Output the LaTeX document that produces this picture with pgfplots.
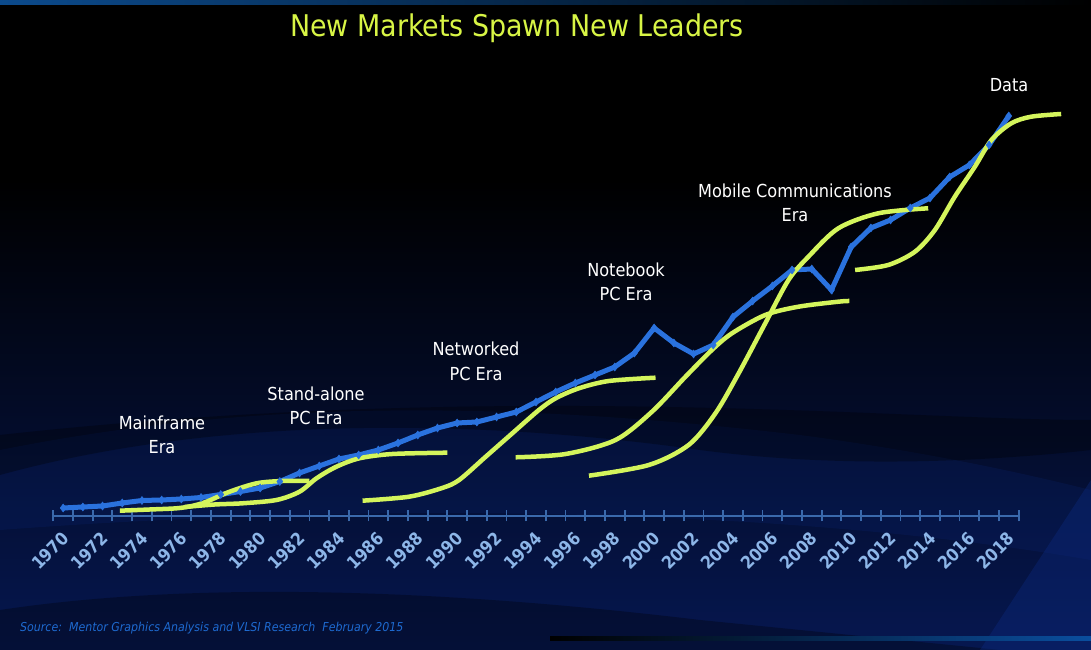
\documentclass[border=0pt]{standalone}
\usepackage{pgfplots}
\pgfplotsset{compat=1.18}
\usepackage{fontspec}
\setmainfont{DejaVu Sans Condensed}
\definecolor{lineblue}{HTML}{2A72DE}
\definecolor{yg}{HTML}{D4F55C}
\definecolor{titleyg}{HTML}{D8F545}
\definecolor{tickblue}{HTML}{3A69AC}
\definecolor{ticklab}{HTML}{8DB6E8}
\definecolor{srcblue}{HTML}{1E6AD0}
\definecolor{navy}{HTML}{061750}
\definecolor{navylight}{HTML}{0C2C86}
\definecolor{topband}{HTML}{0B4A8C}
\definecolor{botband}{HTML}{0A4E9E}
\begin{document}
\begin{tikzpicture}
\begin{scope}[x=1bp,y=1bp]
\useasboundingbox (0,0) rectangle (1091,650);
\clip (0,0) rectangle (1091,650);
\fill[black] (0,0) rectangle (1091,650);
\shade[top color=black, bottom color=navy] (0,0) rectangle (1091,470);
% lighter swath lower left
\fill[navylight, opacity=0.18] (0,200) .. controls (250,250) and (500,250) .. (800,215) .. controls (950,195) and (1050,170) .. (1091,160) -- (1091,90) .. controls (800,140) and (400,150) .. (0,120) -- cycle;
% dark wave
\fill[black, opacity=0.3] (0,175) .. controls (200,230) and (450,235) .. (700,200) .. controls (850,180) and (1000,190) .. (1091,200) -- (1091,230) .. controls (900,230) and (500,270) .. (0,215) -- cycle;
% bottom darker wave
\fill[black, opacity=0.3] (0,0) -- (0,40) .. controls (200,70) and (450,60) .. (700,30) .. controls (800,20) and (900,10) .. (1000,0) -- cycle;
% bottom right lighter
\fill[navylight, opacity=0.35] (980,0) -- (1091,170) -- (1091,0) -- cycle;
% top band
\shade[left color=topband, right color=black] (0,645) rectangle (1091,650);
% bottom band
\shade[left color=black, right color=botband] (550,9) rectangle (1091,13);
% title
\node[anchor=base, text=titleyg, font=\fontsize{30}{30}\selectfont, inner sep=0pt] at (517,613) {New Markets Spawn New Leaders};
\end{scope}
\begin{axis}[
  at={(53.3bp,134bp)}, anchor=south west, scale only axis,
  width=965.3bp, height=516bp,
  xmin=1969.5, xmax=2018.5, ymin=0, ymax=516,
  clip=false,
  axis y line=none,
  axis x line*=bottom,
  x axis line style={draw=tickblue, line width=2bp},
  xtick={1970,1972,...,2018},
  minor xtick={1969.5,1970.5,...,2018.5},
  major tick length=0pt,
  minor tick length=11bp,
  tick align=center,
  minor tick style={draw=tickblue, line width=1.8bp},
  xticklabel style={font=\bfseries\fontsize{17.5}{17.5}\selectfont, text=ticklab, rotate=45, anchor=east, inner sep=0pt, xshift=-12bp, yshift=-15.5bp, /pgf/number format/1000 sep={}, /pgf/number format/assume math mode=true},
]
\addplot[color=lineblue, line width=5bp, mark=diamond*, mark size=4bp, mark options={line width=0.5bp, fill=lineblue}] coordinates {
(1970,8)(1971,9)(1972,10)(1973,13)(1974,15.5)(1975,16)(1976,17)(1977,18.5)(1978,21.5)(1979,24.5)(1980,28)(1981,34.5)(1982,43)(1983,50)(1984,57)(1985,61)(1986,66)(1987,73)(1988,81)(1989,88)(1990,93)(1991,94)(1992,99)(1993,104)(1994,114)(1995,124)(1996,133)(1997,141)(1998,149)(1999,163)(2000,188)(2001,173)(2002,162)(2003,171)(2004,199)(2005,215)(2006,230)(2007,246)(2008,247)(2009,226)(2010,269)(2011,288)(2012,296)(2013,308)(2014,318)(2015,339)(2016,351)(2017,371)(2018,400)
};
% Mainframe era
\addplot[yg, line width=4.5bp, smooth] coordinates {
(1972.88,5.3)(1974.40,6.5)(1975.76,7.7)(1976.53,10)(1977.28,14.3)(1978.45,24.3)(1979.82,32.7)(1981.13,35)(1982.50,35)
};
% Stand-alone PC era
\addplot[yg, line width=4.5bp, smooth] coordinates {
(1976.17,9)(1977.69,11.5)(1979.11,12.7)(1980.83,16)(1982.00,24.3)(1982.86,37.7)(1983.87,49.3)(1985.04,57.7)(1986.71,62)(1989.50,63.3)
};
% Networked PC era
\addplot[yg, line width=4.5bp, smooth] coordinates {
(1985.20,15.3)(1987.56,19.3)(1989.24,28)(1990.10,36)(1991.45,59.3)(1992.80,82.7)(1994.15,106)(1995.00,117.7)(1996.18,127.7)(1997.70,135)(2000.07,138.3)
};
% Notebook PC era
\addplot[yg, line width=4.5bp, smooth] coordinates {
(1992.97,58.7)(1995.51,62)(1998.04,76)(1999.89,104.3)(2001.59,139.3)(2002.93,166)(2003.95,182.7)(2005.64,201)(2007.33,209.3)(2009.35,214.3)(2009.91,215)
};
% Mobile communications era
\addplot[yg, line width=4.5bp, smooth] coordinates {
(1996.69,40.3)(1999.73,51)(2001.75,71)(2003.11,102.7)(2004.29,142.7)(2005.64,192.7)(2006.82,236)(2007.83,259.3)(2009.35,287.7)(2011.38,302.7)(2013.91,307.7)
};
% Data era
\addplot[yg, line width=4.5bp, smooth] coordinates {
(2010.20,246)(2011.88,251)(2013.24,264.3)(2014.25,286)(2015.26,319.3)(2016.28,349.3)(2017.12,376)(2018.13,392.7)(2019.14,399.3)(2020.66,402)
};
\end{axis}
\begin{scope}[x=1bp,y=1bp,every node/.style={text=white, font=\fontsize{18}{18}\selectfont, inner sep=0pt, anchor=center}]
\node at (162,227) {Mainframe};
\node at (162,203) {Era};
\node at (316,256) {Stand-alone};
\node at (316,232) {PC Era};
\node at (476,301) {Networked};
\node at (476,276) {PC Era};
\node at (626,380) {Notebook};
\node at (626,356) {PC Era};
\node at (795,459) {Mobile Communications};
\node at (795,435) {Era};
\node at (1009,565) {Data};
\node[anchor=base west, text=srcblue, font=\itshape\fontsize{12.3}{12.3}\selectfont] at (20,18) {Source:\ \ Mentor Graphics Analysis and VLSI Research\ \ February 2015};
\end{scope}
\end{tikzpicture}
\end{document}
